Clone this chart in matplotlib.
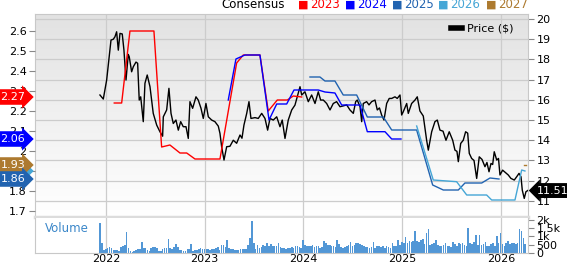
import numpy as np
import matplotlib
matplotlib.use('Agg')
from matplotlib import pyplot as plt
from matplotlib import transforms
from matplotlib.lines import Line2D
from matplotlib.colors import LinearSegmentedColormap

# price ($), x in decimal years
price_t = [2021.939, 2021.973, 2022.007, 2022.051, 2022.074, 2022.091, 2022.108, 2022.125, 2022.142,
           2022.165, 2022.182, 2022.203, 2022.226, 2022.236, 2022.260, 2022.277, 2022.304, 2022.321,
           2022.337, 2022.352, 2022.378, 2022.395, 2022.418, 2022.446, 2022.479, 2022.514, 2022.547,
           2022.574, 2022.581, 2022.615, 2022.638, 2022.659, 2022.682, 2022.709, 2022.733, 2022.757,
           2022.783, 2022.811, 2022.834, 2022.851, 2022.878, 2022.912, 2022.935, 2022.963, 2022.986,
           2023.013, 2023.037, 2023.071, 2023.104, 2023.138, 2023.155, 2023.172, 2023.196, 2023.223,
           2023.256, 2023.290, 2023.324, 2023.358, 2023.378, 2023.398, 2023.426, 2023.449, 2023.469,
           2023.510, 2023.543, 2023.578, 2023.611, 2023.638, 2023.662, 2023.695, 2023.730, 2023.763,
           2023.786, 2023.814, 2023.847, 2023.882, 2023.915, 2023.938, 2023.966, 2023.983, 2024.016,
           2024.050, 2024.084, 2024.118, 2024.151, 2024.175, 2024.202, 2024.236, 2024.270, 2024.303,
           2024.337, 2024.371, 2024.404, 2024.439, 2024.472, 2024.506, 2024.530, 2024.546, 2024.574,
           2024.591, 2024.607, 2024.641, 2024.665, 2024.692, 2024.726, 2024.749, 2024.771, 2024.793,
           2024.817, 2024.844, 2024.870, 2024.895, 2024.928, 2024.951, 2024.979, 2024.996, 2025.012,
           2025.047, 2025.063, 2025.097, 2025.131, 2025.154, 2025.181, 2025.215, 2025.249, 2025.266,
           2025.300, 2025.333, 2025.357, 2025.384, 2025.415, 2025.445, 2025.478, 2025.513, 2025.536,
           2025.556, 2025.570, 2025.594, 2025.620, 2025.644, 2025.665, 2025.681, 2025.705, 2025.729,
           2025.756, 2025.782, 2025.810, 2025.840, 2025.860, 2025.881, 2025.901, 2025.918, 2025.934,
           2025.959, 2025.977, 2025.992, 2026.019, 2026.048, 2026.076, 2026.103, 2026.137, 2026.161,
           2026.185, 2026.205, 2026.218, 2026.238, 2026.255, 2026.273]
price = [16.24, 16.04, 16.98, 18.96, 19.00, 19.12, 19.37, 18.46, 19.29,
         19.26, 18.47, 16.98, 18.25, 18.13, 17.39, 17.64, 17.87, 17.81,
         15.99, 16.15, 14.92, 16.82, 17.23, 16.65, 15.33, 14.75, 14.42,
         14.20, 15.16, 15.50, 16.57, 15.33, 14.83, 15.00, 14.50, 14.92,
         14.67, 14.67, 14.09, 15.91, 15.58, 16.15, 15.99, 15.58, 15.08,
         15.82, 15.16, 15.00, 14.92, 14.70, 14.34, 13.68, 13.02, 13.68,
         13.70, 14.00, 13.85, 14.26, 14.10, 14.75, 15.33, 15.91, 15.08,
         15.12, 15.08, 15.33, 15.08, 14.50, 15.08, 15.00, 15.16, 14.67,
         15.00, 14.09, 15.00, 15.50, 15.74, 16.15, 16.65, 16.24, 16.40,
         15.91, 16.24, 15.82, 16.40, 15.99, 15.99, 15.82, 15.50, 15.82,
         15.91, 15.66, 15.70, 15.75, 15.50, 15.33, 15.91, 15.99, 15.66,
         14.92, 15.82, 15.91, 15.75, 15.91, 15.99, 15.50, 15.60, 15.25,
         15.00, 15.82, 16.07, 16.07, 16.15, 16.07, 16.24, 15.25, 15.41,
         15.82, 15.33, 15.82, 15.99, 16.15, 15.45, 15.20, 14.00, 13.51,
         14.42, 14.92, 15.00, 14.50, 14.45, 14.00, 14.42, 14.00, 13.51,
         13.45, 12.94, 13.84, 14.00, 14.42, 14.35, 13.35, 13.10, 13.00,
         12.11, 13.18, 13.05, 12.69, 12.90, 12.44, 12.85, 12.80, 13.43,
         13.02, 13.10, 12.28, 12.52, 12.40, 12.28, 12.11, 12.03, 12.19,
         12.36, 12.19, 11.53, 11.12, 11.45, 11.51]

# consensus EPS by fiscal year
eps23_t = [2022.084, 2022.159, 2022.243, 2022.486, 2022.564, 2022.648, 2022.750, 2022.818, 2022.902,
           2023.155, 2023.324, 2023.391, 2023.560, 2023.644, 2023.736, 2023.837, 2023.898, 2023.983]
eps23 = [2.24, 2.24, 2.60, 2.60, 2.02, 2.03, 1.99, 1.99, 1.96,
         1.96, 2.44, 2.48, 2.48, 2.20, 2.255, 2.255, 2.275, 2.27]
eps24_t = [2023.239, 2023.317, 2023.408, 2023.560, 2023.652, 2023.730, 2023.831, 2023.905, 2024.151,
           2024.219, 2024.320, 2024.388, 2024.574, 2024.648, 2024.827, 2024.895, 2024.989]
eps24 = [2.255, 2.46, 2.48, 2.48, 2.155, 2.235, 2.235, 2.305, 2.305,
         2.295, 2.29, 2.23, 2.23, 2.0965, 2.0965, 2.06, 2.06]
eps25_t = [2024.067, 2024.168, 2024.219, 2024.320, 2024.404, 2024.540, 2024.648, 2024.810, 2024.895,
           2025.148, 2025.310, 2025.418, 2025.570, 2025.637, 2025.807, 2025.891, 2025.982]
eps25 = [2.37, 2.37, 2.35, 2.35, 2.28, 2.28, 2.17, 2.17, 2.105,
         2.105, 1.83, 1.805, 1.805, 1.84, 1.84, 1.865, 1.86]
eps26_t = [2025.148, 2025.316, 2025.553, 2025.655, 2025.857, 2025.908, 2026.144, 2026.212, 2026.245]
eps26 = [2.125, 1.855, 1.8465, 1.78, 1.78, 1.755, 1.755, 1.905, 1.90]
eps27_t = [2026.235, 2026.255]
eps27 = [1.93, 1.93]

# weekly volume (thousands)
vol_start = 2021.94
volume = [1.8, 0.63, 0.18, 0.24, 0.33, 0.39, 0.33, 0.18, 0.2, 0.18, 0.14, 0.39, 0.43, 0.47, 1.27,
          0.33, 0.14, 0.08, 0.1, 0.18, 0.22, 0.22, 0.67, 0.33, 0.33, 0.2, 0.14, 0.33, 0.39, 0.39,
          0.33, 0.14, 0.14, 0.22, 0.29, 0.33, 0.86, 0.33, 0.27, 0.37, 0.57, 0.39, 0.18, 0.2, 0.14,
          0.14, 0.24, 0.27, 0.57, 0.14, 0.2, 0.2, 0.27, 0.33, 0.25, 0.25, 0.22, 0.25, 0.16, 0.22,
          0.25, 0.31, 0.35, 0.18, 0.49, 0.47, 0.37, 0.76, 0.33, 0.25, 0.25, 0.2, 0.2, 0.18, 0.24,
          0.24, 0.24, 0.24, 0.47, 0.92, 1.94, 0.63, 0.27, 0.49, 0.31, 0.39, 0.47,
          0.45, 0.6, 0.4, 0.55, 0.45, 0.45, 0.4, 0.6, 0.35, 0.3, 0.3, 0.25, 0.3, 0.3, 0.35,
          0.3, 0.4, 0.45, 0.35, 0.3,
          0.8, 0.5, 0.45, 0.45, 0.4, 0.5, 0.35, 0.4, 0.45, 0.3, 0.35, 0.75, 0.6, 0.5, 0.5,
          0.45, 0.4, 0.35, 0.8, 0.55, 0.35, 0.3, 0.35, 0.4, 0.5, 0.67, 0.4, 0.5, 0.6, 0.6,
          0.55, 0.5, 0.45, 0.35, 0.35, 0.3, 0.35, 0.65, 0.3, 0.45, 0.45, 0.35, 0.45, 0.3, 0.45,
          0.35, 0.3, 0.6, 0.4, 0.45, 0.8, 0.5,
          0.65, 0.6, 0.95, 0.6, 0.7, 0.65, 0.7, 1.35, 0.7, 0.65, 0.8, 0.85, 0.55, 1.18, 1.45,
          0.5, 0.55, 0.6, 0.8, 0.5, 0.45, 0.4, 0.5, 0.6, 0.45, 0.4, 0.35, 0.65, 0.55, 0.4,
          0.6, 0.55, 0.6, 0.5, 0.4, 1.5, 0.6, 0.55, 0.65, 1.1, 0.5, 1.1, 0.5, 0.55, 0.65,
          0.45, 0.4, 0.55, 0.6, 0.45, 1.0, 0.6,
          1.18, 0.55, 0.45, 0.6, 0.75, 0.55, 0.6, 0.6, 0.55, 0.6, 1.45, 1.3, 0.9, 0.55]

years = [2022, 2023, 2024, 2025, 2026]
eps_ticks = [1.7, 1.8, 1.9, 2.0, 2.1, 2.2, 2.3, 2.4, 2.5, 2.6]
price_ticks = [11, 12, 13, 14, 15, 16, 17, 18, 19, 20]
vol_ticks = [0, 0.5, 1.0, 1.5, 2.0]
vol_labels = ['0', '500', '1k', '1.5k', '2k']

series_names = ['2023', '2024', '2025', '2026', '2027']
colors = ['#ff0000', '#0000ff', '#2163b0', '#45a6d6', '#ad7a2f']
last_eps = [2.27, 2.06, 1.86, 1.90, 1.93]
last_price = 11.51

plt.rcParams['font.family'] = ['DejaVu Sans']
grid_c = '#cccccc'
tick_c = '#888888'

fig = plt.figure(figsize=(5.67, 2.64), dpi=100)
ax = fig.add_axes([35 / 567, 1 - 217 / 264, 493 / 567, 203 / 264])
axv = fig.add_axes([35 / 567, 1 - 253 / 264, 493 / 567, 35 / 264], sharex=ax)

# background gradient
cmap = LinearSegmentedColormap.from_list('bg', ['#e2e2e2', '#ffffff'])
ax.imshow(np.linspace(0, 1, 256).reshape(-1, 1), extent=[0, 1, 0, 1], transform=ax.transAxes,
          cmap=cmap, aspect='auto', zorder=0)

# price on primary axes (right scale)
ax.plot(price_t, price, color='black', lw=1.0, zorder=3)
ax.set_ylim(10.2, 20.25)
ax.set_xlim(2021.281, 2026.276)
ax.set_xticks(years)
ax.grid(True, color=grid_c, lw=0.9, zorder=1)
ax.set_axisbelow(True)
ax.tick_params(axis='x', bottom=False, labelbottom=False)
for s in ['left', 'right', 'top']:
    ax.spines[s].set_color('#c8c8c8')
ax.spines['bottom'].set_color('#dcdcdc')
ax.spines['bottom'].set_linewidth(2.5)

# EPS on twin axes (left scale)
axe = ax.twinx()
axe.set_ylim(1.67, 2.685)
eps_t = [eps23_t, eps24_t, eps25_t, eps26_t, eps27_t]
eps_v = [eps23, eps24, eps25, eps26, eps27]
for t, v, c in zip(eps_t, eps_v, colors):
    axe.plot(t, v, color=c, lw=1.0, zorder=2)
axe.yaxis.tick_left()
axe.set_yticks(eps_ticks)
axe.set_yticklabels(['%g' % e for e in eps_ticks])
axe.tick_params(axis='y', labelsize=8, color=tick_c, length=4, pad=2)
for s in axe.spines.values():
    s.set_visible(False)

# twinx moves the primary ticks to the left, put them back on the right
ax.yaxis.tick_right()
ax.set_yticks(price_ticks)
ax.set_yticklabels([str(p) for p in price_ticks])
ax.tick_params(axis='y', which='both', labelsize=8, color=tick_c, length=4, pad=2)

# left value flags
trans_l = transforms.blended_transform_factory(axe.transAxes, axe.transData)
order = [0, 1, 3, 4, 2]
for i in order:
    axe.text(-0.02, last_eps[i], '%.2f' % last_eps[i], transform=trans_l, ha='right', va='center',
             color='white', fontsize=8, zorder=10,
             bbox=dict(boxstyle='rarrow,pad=0.25', fc=colors[i], ec='none'))

# right price flag
trans_r = transforms.blended_transform_factory(ax.transAxes, ax.transData)
ax.text(1.018, last_price, '%.2f' % last_price, transform=trans_r, ha='left', va='center',
        color='white', fontsize=8, zorder=10,
        bbox=dict(boxstyle='larrow,pad=0.22', fc='black', ec='none'))

# price legend
ax.legend([Line2D([], [], color='black', lw=4)], ['Price ($)'], loc='upper right',
          bbox_to_anchor=(0.985, 0.985), frameon=False, fontsize=8, handlelength=1.0,
          handletextpad=0.5, borderaxespad=0.2)

# volume panel
vol_x = vol_start + np.arange(len(volume)) / 52
axv.bar(vol_x, volume, width=0.85 / 52, color='#5297d6', edgecolor='none', zorder=2)
axv.set_ylim(0, 2.1)
axv.yaxis.tick_right()
axv.set_yticks(vol_ticks)
axv.set_yticklabels(vol_labels)
axv.tick_params(axis='y', labelsize=8, color=tick_c, length=4, pad=2)
axv.tick_params(axis='x', labelsize=8, length=0, pad=0.5)
axv.set_xticks(years)
axv.set_xticklabels([str(y) for y in years])
axv.grid(True, axis='x', color=grid_c, lw=0.9, zorder=1)
axv.set_axisbelow(True)
axv.spines['top'].set_visible(False)
for s in ['left', 'right', 'bottom']:
    axv.spines[s].set_color('#c8c8c8')
axv.text(0.02, 0.69, 'Volume', transform=axv.transAxes, color='#3b87c9', fontsize=8.5,
         va='center', ha='left')

# consensus legend at top
fig.text(285 / 567, 1 - 5 / 264, 'Consensus', ha='right', va='center', fontsize=8.5)
sq_x = [298, 345, 392, 438, 486]
for x0, name, c in zip(sq_x, series_names, colors):
    fig.text(x0 / 567, 1 - 5 / 264, '\u25a0', ha='left', va='center', fontsize=8, color=c)
    fig.text((x0 + 12) / 567, 1 - 5 / 264, name, ha='left', va='center', fontsize=8.5, color=c)

fig.savefig('out.png', dpi=100)
